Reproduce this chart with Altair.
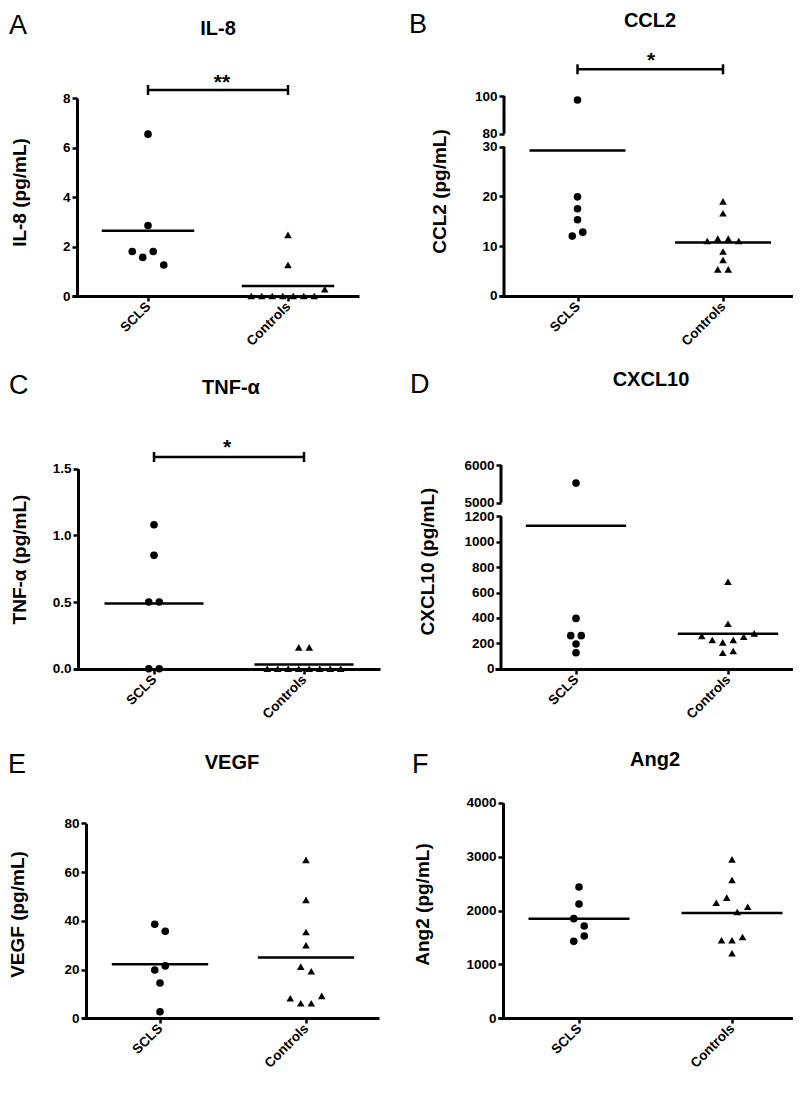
import altair as alt
import numpy as np
import pandas as pd

GROUPS = ["SCLS", "Controls"]

# values (pg/mL); inside a tied row the order is left -> right
il8_scls = [6.54, 2.85, 1.80, 1.56, 1.80, 1.25]
il8_ctrl = [2.47, 1.25, 0, 0, 0, 0, 0, 0, 0, 0.27]
ccl2_scls = [97.9, 19.9, 17.5, 15.3, 12.0, 12.8]
ccl2_ctrl = [19.0, 16.6, 11.0, 11.5, 11.5, 11.0, 8.9, 7.2, 5.3, 5.3]
tnf_scls = [1.08, 0.85, 0.50, 0.50, 0.0, 0.0]
tnf_ctrl = [0.16, 0.16, 0, 0, 0, 0, 0, 0, 0, 0]
cxcl10_scls = [5520, 396, 260, 194, 260, 126]
cxcl10_ctrl = [685, 354, 257, 226, 207, 226, 252, 278, 126, 139]
vegf_scls = [38.6, 35.7, 19.8, 21.5, 14.5, 2.7]
vegf_ctrl = [65.0, 48.6, 35.4, 30.0, 21.2, 19.3, 8.2, 6.2, 6.2, 9.2]
ang2_scls = [2436, 2121, 1849, 1713, 1428, 1527]
ang2_ctrl = [2949, 2566, 2145, 2238, 1972, 2071, 1447, 1447, 1508, 1206]

letters = ["A", "B", "C", "D", "E", "F"]
titles = ["IL-8", "CCL2", "TNF-α", "CXCL10", "VEGF", "Ang2"]
ytitles = ["IL-8 (pg/mL)", "CCL2 (pg/mL)", "TNF-α (pg/mL)", "CXCL10 (pg/mL)",
           "VEGF (pg/mL)", "Ang2 (pg/mL)"]
ydomains = [[0, 8], [0, 30, 80, 100], [0, 1.5], [0, 1200, 5000, 6000], [0, 80], [0, 4000]]
yticks = [[0, 2, 4, 6, 8], [0, 10, 20, 30, 80, 100], [0, 0.5, 1.0, 1.5],
          [0, 200, 400, 600, 800, 1000, 1200, 5000, 6000], [0, 20, 40, 60, 80],
          [0, 1000, 2000, 3000, 4000]]
yformats = ["d", "d", ".1f", "d", "d", "d"]
stars = ["**", "*", "*", None, None, None]
data_sets = [(il8_scls, il8_ctrl), (ccl2_scls, ccl2_ctrl), (tnf_scls, tnf_ctrl),
             (cxcl10_scls, cxcl10_ctrl), (vegf_scls, vegf_ctrl), (ang2_scls, ang2_ctrl)]

FONT = "Liberation Sans"
STEP = 10.5   # horizontal spacing of tied points, px
TIE = 8.0     # vertical distance under which points share a row, px
TITLE_FS = 20
LETTER_FS = 27

# grid cells (pixels of the reference figure; rows pulled a little closer so it fits)
COL_X = [65, 488]
COL_W = [308, 298]
ROW_TOP = [90, 434, 817]
ROW_H = [200, 239, 215]
ROW_GAP = 134
TEXT_DY = [6, 0, 5]   # panel letters / titles nudged relative to their plots
COL_GAP = COL_X[1] - (COL_X[0] + COL_W[0])

LAYOUT = [
    dict(xs=65, xe=352, t0=141, t1=281, yax=70,
         yabs=[290, 92], title_xy=(211, 23), letter_xy=(2, 22), ytitle_xy=(12, 186),
         br_y=84, star_xy=(215, 83)),
    dict(xs=492, xe=786, t0=570.5, t1=716, yax=497,
         yabs=[289.7, 140.7, 127.7, 90], title_xy=(643, 15), letter_xy=(402, 21),
         ytitle_xy=(432, 185), br_y=63.3, star_xy=(644, 61)),
    dict(xs=67, xe=373, t0=147, t1=297, yax=71,
         yabs=[672.7, 472.7], title_xy=(224, 398), letter_xy=(2, 398),
         ytitle_xy=(12, 563), br_y=461, star_xy=(220, 458)),
    dict(xs=488, xe=786, t0=569, t1=721, yax=494,
         yabs=[672.7, 520.3, 506.7, 469], title_xy=(644, 390), letter_xy=(403, 397),
         ytitle_xy=(420, 565), br_y=None, star_xy=None),
    dict(xs=75, xe=372, t0=153, t1=299, yax=79,
         yabs=[1032.3, 837.3], title_xy=(225, 778), letter_xy=(1, 782),
         ytitle_xy=(10, 928), br_y=None, star_xy=None),
    dict(xs=491, xe=786, t0=572, t1=725, yax=496,
         yabs=[1032.3, 816.7], title_xy=(648, 775), letter_xy=(405, 782),
         ytitle_xy=(415, 918), br_y=None, star_xy=None),
]


def swarm(values, pix):
    """Spread points that fall in the same row, centred on the category."""
    n = len(values)
    py = [float(pix(v)) for v in values]
    order = sorted(range(n), key=lambda i: py[i])
    clusters, cur = [], [order[0]]
    for i in order[1:]:
        if abs(py[i] - py[cur[-1]]) < TIE:
            cur.append(i)
        else:
            clusters.append(cur)
            cur = [i]
    clusters.append(cur)
    off = [0.0] * n
    for c in clusters:
        c = sorted(c)
        k = len(c)
        for j, i in enumerate(c):
            off[i] = (j - (k - 1) / 2) * STEP
    return off


label_expr = "datum.value == 0 ? '%s' : '%s'" % (GROUPS[0], GROUPS[1])


def make_panel(k):
    L = LAYOUT[k]
    x0 = COL_X[k % 2]
    top = ROW_TOP[k // 2]
    tdy = TEXT_DY[k // 2]
    W = COL_W[k % 2]
    H = ROW_H[k // 2]
    scls, ctrl = data_sets[k]
    ydom = ydomains[k]
    unit = L["t1"] - L["t0"]
    lo = (L["xs"] - L["t0"]) / unit
    hi = (L["xe"] - L["t0"]) / unit
    xrange_ = [L["xs"] - x0, L["xe"] - x0]
    yrange_ = [v - top for v in L["yabs"]]
    broken = len(ydom) > 2

    xscale = alt.Scale(domain=[lo, hi], range=xrange_, nice=False, zero=False)
    yscale = alt.Scale(domain=ydom, range=yrange_, nice=False, zero=False)
    xaxis = alt.Axis(values=[0, 1], labelExpr=label_expr, title=None, labelAngle=315,
                     labelAlign="right", labelBaseline="middle", labelPadding=3,
                     labelFlush=False, labelOverlap=False)
    yaxis = alt.Axis(values=yticks[k], format=yformats[k], title=ytitles[k],
                     domain=not broken, offset=-(L["yax"] - x0),
                     titleX=L["ytitle_xy"][0] - L["yax"],
                     titleY=L["ytitle_xy"][1] - top,
                     titleAngle=270, titleAlign="center", titleBaseline="middle",
                     labelPadding=2, labelFlush=False, labelOverlap=False)

    def pix(v):
        return np.interp(v, ydom, yrange_)

    rows = []
    for gi, vals in enumerate([scls, ctrl]):
        offs = swarm(vals, pix)
        for v, o in zip(vals, offs):
            rows.append(dict(group=GROUPS[gi], gi=gi, value=v, xpos=gi + o / unit))
    df = pd.DataFrame(rows)

    X = lambda f: alt.X(f, type="quantitative", scale=xscale, axis=xaxis)
    Y = lambda f: alt.Y(f, type="quantitative", scale=yscale, axis=yaxis)

    points = alt.Chart(df).mark_point(filled=True, opacity=1, color="black", size=58).encode(
        x=X("xpos"), y=Y("value"),
        shape=alt.Shape("group:N", scale=alt.Scale(domain=GROUPS, range=["circle", "triangle-up"]),
                        legend=None),
    )
    means = alt.Chart(df).transform_aggregate(
        mean="mean(value)", groupby=["gi"]
    ).transform_calculate(
        xa="datum.gi - 0.33", xb="datum.gi + 0.33"
    ).mark_rule(color="black", strokeWidth=2.5).encode(
        x=X("xa"), x2="xb:Q", y=Y("mean"))

    layers = [points, means]

    if broken:
        seg = pd.DataFrame(dict(ax=[(L["yax"] - L["t0"]) / unit] * 2,
                                y1=[ydom[0], ydom[2]], y2=[ydom[1], ydom[3]]))
        layers.append(alt.Chart(seg).mark_rule(color="black", strokeWidth=3).encode(
            x=X("ax"), y=Y("y1"), y2="y2:Q"))

    if stars[k]:
        by = L["br_y"] - top
        br = pd.DataFrame(dict(bx=[0.0], bx2=[1.0]))
        layers.append(alt.Chart(br).mark_rule(color="black", strokeWidth=2.5).encode(
            x=X("bx"), x2="bx2:Q", y=alt.value(by)))
        ends = pd.DataFrame(dict(bx=[0.0, 1.0]))
        layers.append(alt.Chart(ends).mark_rule(color="black", strokeWidth=2.5).encode(
            x=X("bx"), y=alt.value(by - 5), y2=alt.value(by + 5)))
        st = pd.DataFrame(dict(t=[stars[k]]))
        layers.append(alt.Chart(st).mark_text(
            font=FONT, fontSize=21, fontWeight="bold", color="black",
            align="center", baseline="alphabetic").encode(
            text="t:N", x=alt.value(L["star_xy"][0] - x0),
            y=alt.value(L["star_xy"][1] - top)))

    # top-baseline text: vega shifts glyphs down by round(0.79 * fontSize)
    tt = pd.DataFrame(dict(t=[titles[k]]))
    layers.append(alt.Chart(tt).mark_text(
        font=FONT, fontSize=TITLE_FS, fontWeight="bold", color="black",
        align="center", baseline="top").encode(
        text="t:N", x=alt.value(L["title_xy"][0] - x0),
        y=alt.value(L["title_xy"][1] + tdy - top - round(0.79 * TITLE_FS))))
    lt = pd.DataFrame(dict(t=[letters[k]]))
    layers.append(alt.Chart(lt).mark_text(
        font=FONT, fontSize=LETTER_FS, fontWeight="normal", color="black",
        align="left", baseline="top").encode(
        text="t:N", x=alt.value(L["letter_xy"][0] - x0),
        y=alt.value(L["letter_xy"][1] + tdy - top - round(0.79 * LETTER_FS))))

    return alt.layer(*layers).properties(width=W, height=H)


P = [make_panel(k) for k in range(6)]
chart = alt.concat(*P, columns=2, spacing={"row": ROW_GAP, "column": COL_GAP},
                   bounds="flush")

chart = chart.properties(
    padding={"top": 3, "left": 0, "right": 0, "bottom": 0}, background="white"
).configure_view(stroke=None).configure_axis(
    grid=False, domainColor="black", domainWidth=3, tickColor="black", tickWidth=2.5,
    tickSize=5, labelFont=FONT, labelFontSize=13.5, labelFontWeight="bold", labelColor="black",
    titleFont=FONT, titleFontSize=19, titleFontWeight="bold", titleColor="black",
)

chart.save("out.html", embed_options={"renderer": "svg", "actions": False})
